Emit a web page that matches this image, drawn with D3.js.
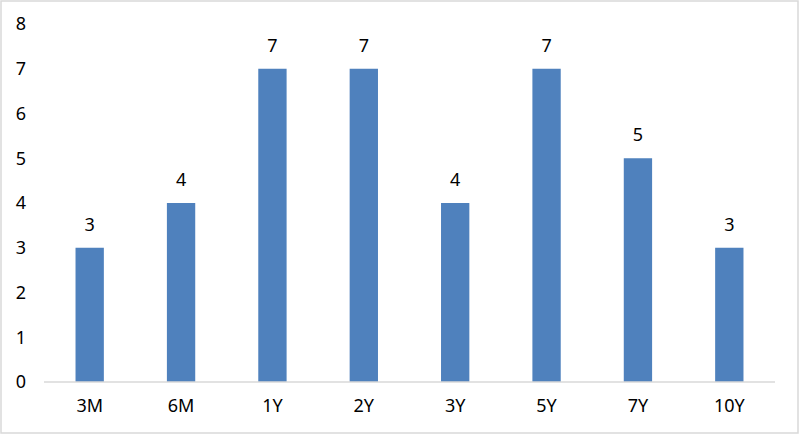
<!DOCTYPE html>
<html>
<head>
<meta charset="utf-8">
<script src="https://cdn.jsdelivr.net/npm/d3@7"></script>
<style>
    body { margin: 0; background: #fff; }
</style>
</head>
<body>
<div id="chart"></div>
<script>
    var categories = ["3M", "6M", "1Y", "2Y", "3Y", "5Y", "7Y", "10Y"];
    var values = [3, 4, 7, 7, 4, 7, 5, 3];
    var yTicks = [0, 1, 2, 3, 4, 5, 6, 7, 8];

    var w = 800;
    var h = 435;
    var font = "'Noto Sans', 'DejaVu Sans', sans-serif";
    var fontSize = "18px";

    var svg = d3.select("#chart")
        .append("svg")
        .attr("width", w)
        .attr("height", h);

    // outer frame
    svg.append("rect")
        .attr("x", 1).attr("y", 1)
        .attr("width", w - 3).attr("height", h - 3)
        .attr("fill", "#fff")
        .attr("stroke", "#d9d9d9")
        .attr("stroke-width", 1.5);

    var xScale = d3.scaleBand()
        .domain(categories)
        .range([44, 775])
        .paddingInner(0.69)
        .paddingOuter(0.345);

    var yScale = d3.scaleLinear()
        .domain([0, 8])
        .range([382, 24]);

    svg.selectAll("rect.bar")
        .data(values)
        .enter()
        .append("rect")
        .attr("class", "bar")
        .attr("x", function (d, i) { return xScale(categories[i]); })
        .attr("y", function (d) { return yScale(d); })
        .attr("width", xScale.bandwidth())
        .attr("height", function (d) { return yScale(0) - yScale(d); })
        .attr("fill", "#4f81bd");

    svg.selectAll("text.val")
        .data(values)
        .enter()
        .append("text")
        .attr("class", "val")
        .attr("x", function (d, i) { return xScale(categories[i]) + xScale.bandwidth() / 2; })
        .attr("y", function (d) { return yScale(d) - 17; })
        .attr("text-anchor", "middle")
        .style("font-family", font)
        .style("font-size", fontSize)
        .text(function (d) { return d; });

    // baseline
    svg.append("line")
        .attr("x1", 44).attr("x2", 775)
        .attr("y1", yScale(0)).attr("y2", yScale(0))
        .attr("stroke", "#d9d9d9")
        .attr("stroke-width", 1.5);

    var xAxis = d3.axisBottom(xScale).tickSize(0).tickPadding(17);
    svg.append("g")
        .attr("class", "x axis")
        .attr("transform", "translate(0," + yScale(0) + ")")
        .call(xAxis)
        .call(function (g) { g.select(".domain").remove(); });

    var yAxis = d3.axisLeft(yScale).tickValues(yTicks).tickSize(0).tickPadding(0);
    svg.append("g")
        .attr("class", "y axis")
        .attr("transform", "translate(26,0)")
        .call(yAxis)
        .call(function (g) { g.select(".domain").remove(); });

    svg.selectAll(".axis text")
        .style("font-family", font)
        .style("font-size", fontSize)
        .attr("fill", "#000");
</script>
</body>
</html>
